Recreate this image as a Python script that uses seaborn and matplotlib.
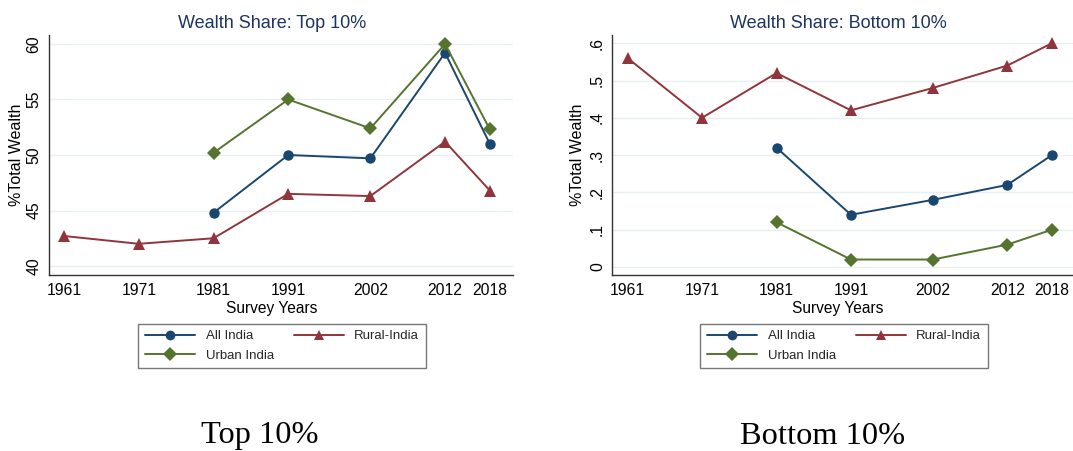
import numpy as np
import pandas as pd
import seaborn as sns
import matplotlib
matplotlib.use("Agg")
import matplotlib.pyplot as plt
from matplotlib.lines import Line2D

# Survey years
years = [1961, 1971, 1981, 1991, 2002, 2012, 2018]
year_labels = ["1961", "1971", "1981", "1991", "2002", "2012", "2018"]

# Wealth share of the top 10% (% of total wealth)
top_all_years = [1981, 1991, 2002, 2012, 2018]
top_all = [44.8, 50.0, 49.7, 59.2, 51.0]
top_rural_years = [1961, 1971, 1981, 1991, 2002, 2012, 2018]
top_rural = [42.7, 42.0, 42.5, 46.5, 46.3, 51.2, 46.8]
top_urban_years = [1981, 1991, 2002, 2012, 2018]
top_urban = [50.2, 55.0, 52.4, 60.0, 52.3]

# Wealth share of the bottom 10% (% of total wealth)
bot_all_years = [1981, 1991, 2002, 2012, 2018]
bot_all = [0.32, 0.14, 0.18, 0.22, 0.30]
bot_rural_years = [1961, 1971, 1981, 1991, 2002, 2012, 2018]
bot_rural = [0.56, 0.40, 0.52, 0.42, 0.48, 0.54, 0.60]
bot_urban_years = [1981, 1991, 2002, 2012, 2018]
bot_urban = [0.12, 0.02, 0.02, 0.06, 0.10]

top_ticks = [40, 45, 50, 55, 60]
top_tick_labels = ["40", "45", "50", "55", "60"]
bot_ticks = [0, 0.1, 0.2, 0.3, 0.4, 0.5, 0.6]
bot_tick_labels = ["0", ".1", ".2", ".3", ".4", ".5", ".6"]

series_names = ["All India", "Rural-India", "Urban India"]
colors = {"All India": "#1a476f", "Rural-India": "#90353b", "Urban India": "#55752f"}
markers = {"All India": "o", "Rural-India": "^", "Urban India": "D"}
msizes = {"All India": 7.5, "Rural-India": 8, "Urban India": 7.5}


def long_frame(parts):
    rows = []
    for name, xs, ys in parts:
        for x, y in zip(xs, ys):
            rows.append({"year": x, "share": y, "series": name})
    return pd.DataFrame(rows)


top_df = long_frame([
    ("All India", top_all_years, top_all),
    ("Rural-India", top_rural_years, top_rural),
    ("Urban India", top_urban_years, top_urban),
])
bot_df = long_frame([
    ("All India", bot_all_years, bot_all),
    ("Rural-India", bot_rural_years, bot_rural),
    ("Urban India", bot_urban_years, bot_urban),
])

sns.set_theme(style="white")
plt.rcParams["font.family"] = ["Liberation Sans", "DejaVu Sans"]

W, H = 1073, 451
fig = plt.figure(figsize=(W / 100, H / 100), dpi=100)
fig.patch.set_facecolor("white")


def px_axes(x0, x1, ytop, ybot):
    return fig.add_axes([x0 / W, 1 - ybot / H, (x1 - x0) / W, (ybot - ytop) / H])


title_color = "#1c3460"
grid_color = "#e8eff1"


def draw_panel(ax, df, ylim, ticks, tick_labels, title, center_x, ylab_x, legend_cx):
    for name in series_names:
        sub = df[df["series"] == name]
        sns.lineplot(data=sub, x="year", y="share", ax=ax, color=colors[name],
                     marker=markers[name], markersize=msizes[name],
                     markeredgewidth=0, linewidth=1.4, legend=False)
    ax.set_xlim(1958.9, 2021.1)
    ax.set_ylim(*ylim)
    ax.set_xticks(years)
    ax.set_xticklabels(year_labels, fontsize=11.3)
    ax.set_yticks(ticks)
    ax.set_yticklabels(tick_labels, fontsize=11.3, rotation=90, va="center")
    ax.set_xlabel("")
    ax.set_ylabel("")
    ax.yaxis.grid(True, color=grid_color, linewidth=1.0)
    ax.xaxis.grid(False)
    ax.set_axisbelow(True)
    for s in ["top", "right"]:
        ax.spines[s].set_visible(False)
    for s in ["left", "bottom"]:
        ax.spines[s].set_color("#333333")
        ax.spines[s].set_linewidth(1.0)
    ax.tick_params(axis="both", which="both", direction="out", length=4,
                   width=0.8, color="#555555", labelcolor="black", pad=2)
    ax.tick_params(axis="y", pad=1)

    fig.text(center_x / W, 1 - 23 / H, title, ha="center", va="center",
             fontsize=13, color=title_color)
    fig.text(center_x / W, 1 - 309 / H, "Survey Years", ha="center", va="center",
             fontsize=11.2, color="black")
    fig.text(ylab_x / W, 1 - 155 / H, "%Total Wealth", ha="center", va="center",
             fontsize=11.5, rotation=90, color="black")

    handles = [Line2D([], [], color=colors[n], marker=markers[n], markersize=msizes[n] - 0.5,
                      markeredgewidth=0, linewidth=1.4, label=n)
               for n in ["All India", "Urban India", "Rural-India"]]
    leg = fig.legend(handles=handles, ncol=2, loc="center",
                     bbox_to_anchor=(legend_cx / W, 1 - 346 / H),
                     fontsize=9.5, frameon=True, fancybox=False,
                     handlelength=3.8, columnspacing=1.5, handletextpad=0.8,
                     labelspacing=0.55, borderpad=0.5)
    frame = leg.get_frame()
    frame.set_edgecolor("#555555")
    frame.set_linewidth(1.0)


ax1 = px_axes(48.5, 513, 35, 275)
draw_panel(ax1, top_df, (39.19, 60.81), top_ticks, top_tick_labels,
           "Wealth Share: Top 10%", 272, 17, 282)

ax2 = px_axes(612, 1075, 35, 275)
draw_panel(ax2, bot_df, (-0.0215, 0.622), bot_ticks, bot_tick_labels,
           "Wealth Share: Bottom 10%", 838, 578, 844)

# Panel captions
fig.text(260 / W, 1 - 436 / H, "Top 10%", ha="center", va="center",
         fontsize=23.3, family=["Liberation Serif", "DejaVu Serif"], color="black")
fig.text(823 / W, 1 - 436 / H, "Bottom 10%", ha="center", va="center",
         fontsize=23.3, family=["Liberation Serif", "DejaVu Serif"], color="black")

fig.savefig("out.png", dpi=100, facecolor="white")
